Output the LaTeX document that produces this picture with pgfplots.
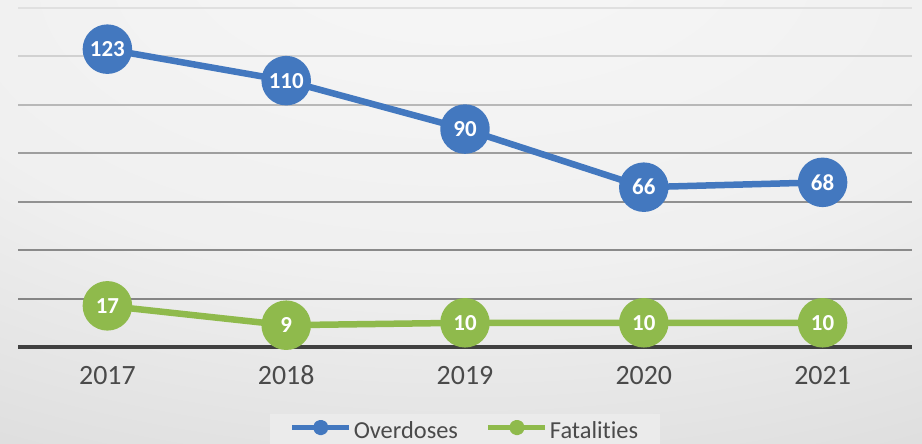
\documentclass[border=0pt]{standalone}
\usepackage{pgfplots}
\pgfplotsset{compat=1.18}
\usepackage{fontspec}
\setmainfont{Carlito}[Ligatures={NoCommon}]

\definecolor{odblue}{HTML}{4378BF}
\definecolor{ftgreen}{HTML}{8FBA4C}
\definecolor{txtgray}{HTML}{4A4A4A}
% light at the top middle, greyer towards the bottom corners
\pgfdeclareradialshading{bgshade}{\pgfpoint{0bp}{35bp}}{color(0bp)=(black!3); color(30bp)=(black!6); color(65bp)=(black!18); color(100bp)=(black!22)}

\begin{document}
\begin{tikzpicture}
\shade[use as bounding box, shading=bgshade] (0,0) rectangle (922bp,444bp);
\begin{axis}[
  at={(18bp,97bp)}, anchor=south west,
  scale only axis, width=894bp, height=339bp,
  xmin=-0.5, xmax=4.5, ymin=0, ymax=140,
  axis x line*=bottom, axis y line=none,
  x axis line style={black!75, line width=3bp},
  xtick={0,1,2,3,4}, xticklabels={2017,2018,2019,2020,2021},
  major tick length=0pt,
  xticklabel style={font=\fontsize{28}{32}\selectfont, text=txtgray, text height=17.5bp, text depth=0bp, yshift=-16bp},
  clip=false,
  /pgf/number format/assume math mode=true,
  legend style={at={(0.5,-0.198)}, anchor=north, legend columns=2, draw=none,
    fill=black!8, inner xsep=20bp, inner ysep=5bp,
    font=\fontsize{24.5}{28}\selectfont, text=txtgray,
    /tikz/every even column/.append style={column sep=26bp}},
  legend cell align=left,
  nodes near coords,
  every node near coord/.style={anchor=center, text=white, font=\bfseries\fontsize{23}{26}\selectfont, inner sep=0pt},
]
% grid lines, fading towards the top
\draw[black!48, line width=2bp] (axis cs:-0.5,20) -- (axis cs:4.5,20);
\draw[black!46, line width=2bp] (axis cs:-0.5,40) -- (axis cs:4.5,40);
\draw[black!43, line width=2bp] (axis cs:-0.5,60) -- (axis cs:4.5,60);
\draw[black!38, line width=2bp] (axis cs:-0.5,80) -- (axis cs:4.5,80);
\draw[black!28, line width=2bp] (axis cs:-0.5,100) -- (axis cs:4.5,100);
\draw[black!18, line width=2bp] (axis cs:-0.5,120) -- (axis cs:4.5,120);
\draw[black!12, line width=2bp] (axis cs:-0.5,140) -- (axis cs:4.5,140);

\addplot[odblue, line width=6.5bp, line join=round, mark=*, mark size=21.5bp,
  mark options={fill=odblue, draw=none},
  legend image code/.code={\draw[odblue, line width=5bp] (0bp,0.3em) -- (57bp,0.3em); \fill[odblue] (28.5bp,0.3em) circle (4.5bp);}]
  coordinates {(0,123) (1,110) (2,90) (3,66) (4,68)};
\addlegendentry{Overdoses}
\addplot[ftgreen, line width=6.5bp, line join=round, mark=*, mark size=21.5bp,
  mark options={fill=ftgreen, draw=none},
  legend image code/.code={\draw[ftgreen, line width=5bp] (0bp,0.3em) -- (57bp,0.3em); \fill[ftgreen] (28.5bp,0.3em) circle (4.5bp);}]
  coordinates {(0,17) (1,9) (2,10) (3,10) (4,10)};
\addlegendentry{Fatalities}
\end{axis}
\end{tikzpicture}
\end{document}
